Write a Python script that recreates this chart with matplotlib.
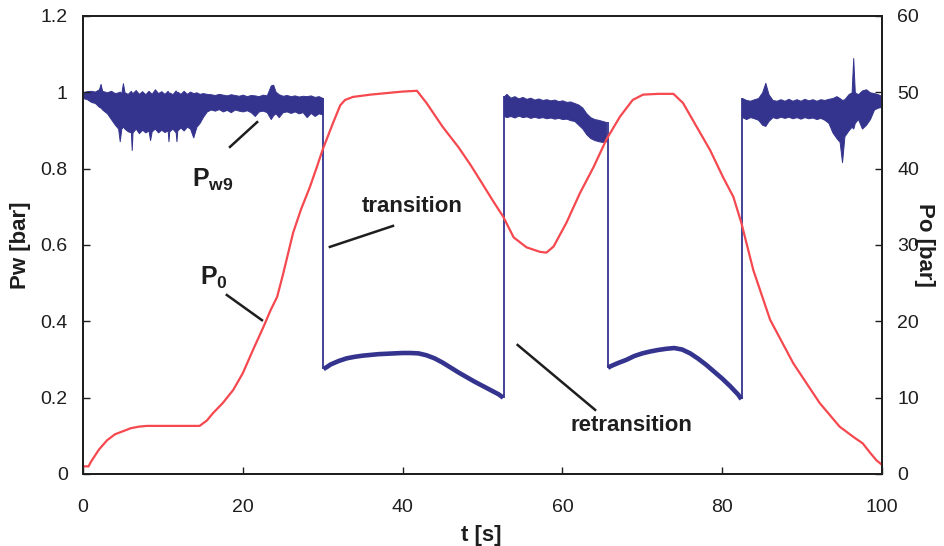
import numpy as np
import matplotlib
matplotlib.use('Agg')
import matplotlib.pyplot as plt

plt.rcParams['font.family'] = ['Liberation Sans', 'DejaVu Sans']
plt.rcParams['mathtext.fontset'] = 'custom'
plt.rcParams['mathtext.rm'] = 'Liberation Sans'
plt.rcParams['mathtext.bf'] = 'Liberation Sans:bold'

# Pw9 [bar], high (noisy) phases read as lower / upper edge of the band
t_a = [0.0, 0.5, 1.0, 1.5, 2.0, 2.2, 2.4, 3.0, 3.5, 4.0,
       4.4, 4.6, 4.8, 5.0, 5.2, 5.6, 6.0, 6.1, 6.2, 6.6,
       7.0, 7.4, 7.8, 8.2, 8.4, 8.6, 9.0, 9.4, 9.8, 10.2,
       10.6, 10.7, 10.8, 11.2, 11.6, 11.7, 11.8, 12.2, 12.6, 13.0,
       13.4, 13.8, 14.2, 14.6, 15.0, 15.5, 16.0, 16.5, 17.0, 17.5,
       18.0, 18.5, 19.0, 19.5, 20.0, 20.5, 21.0, 21.5, 22.0, 22.5,
       23.0, 23.5, 23.8, 24.1, 24.5, 25.0, 25.5, 26.0, 26.5, 27.0,
       27.5, 28.0, 28.5, 29.0, 29.5, 30.0]
lo_a = [0.985, 0.982, 0.975, 0.972, 0.962, 0.960, 0.955, 0.945, 0.930, 0.915,
        0.905, 0.872, 0.905, 0.910, 0.905, 0.898, 0.895, 0.849, 0.895, 0.905,
        0.893, 0.902, 0.895, 0.900, 0.875, 0.898, 0.905, 0.895, 0.902, 0.896,
        0.900, 0.872, 0.898, 0.905, 0.895, 0.872, 0.900, 0.908, 0.900, 0.910,
        0.905, 0.882, 0.910, 0.920, 0.935, 0.950, 0.955, 0.952, 0.956, 0.950,
        0.954, 0.948, 0.955, 0.952, 0.950, 0.953, 0.948, 0.938, 0.950, 0.952,
        0.948, 0.930, 0.940, 0.945, 0.935, 0.948, 0.950, 0.946, 0.950, 0.945,
        0.948, 0.935, 0.946, 0.938, 0.945, 0.942]
hi_a = [1.000, 1.003, 1.004, 1.002, 1.008, 1.022, 1.004, 1.000, 1.004, 0.998,
        1.000, 1.002, 0.998, 1.024, 1.000, 0.996, 1.004, 1.000, 0.998, 1.006,
        0.996, 1.003, 0.995, 1.004, 1.000, 0.996, 1.008, 0.998, 1.003, 0.996,
        1.004, 0.998, 1.000, 0.995, 1.005, 0.998, 1.002, 0.996, 1.004, 0.996,
        1.002, 0.998, 1.000, 0.996, 0.998, 0.996, 0.995, 0.993, 0.996, 0.994,
        0.992, 0.995, 0.993, 0.991, 0.994, 0.990, 0.993, 0.992, 0.990, 0.994,
        0.992, 1.018, 1.020, 1.002, 0.995, 0.991, 0.993, 0.990, 0.992, 0.989,
        0.991, 0.990, 0.992, 0.988, 0.990, 0.985]

t_c = [52.7, 53.0, 53.5, 54.0, 54.5, 55.0, 55.5, 56.0, 56.5, 57.0,
       57.5, 58.0, 58.5, 59.0, 59.5, 60.0, 60.5, 61.0, 61.5, 62.0,
       62.5, 63.0, 63.5, 64.0, 64.5, 65.0, 65.5]
lo_c = [0.938, 0.935, 0.938, 0.934, 0.939, 0.935, 0.937, 0.933, 0.936, 0.933,
        0.935, 0.932, 0.934, 0.931, 0.933, 0.930, 0.931, 0.927, 0.925, 0.915,
        0.905, 0.890, 0.880, 0.875, 0.872, 0.870, 0.872]
hi_c = [0.990, 0.996, 0.986, 0.990, 0.984, 0.988, 0.983, 0.986, 0.981, 0.984,
        0.980, 0.982, 0.979, 0.981, 0.977, 0.979, 0.975, 0.976, 0.972, 0.968,
        0.960, 0.945, 0.935, 0.930, 0.928, 0.925, 0.922]

t_e = [82.5, 83.0, 83.5, 84.0, 84.5, 85.0, 85.4, 85.8, 86.3, 86.8, 87.3, 87.8, 88.3, 88.8, 89.3, 89.8, 90.3,
       90.8, 91.3, 91.8, 92.3, 92.8, 93.3, 93.8, 94.3, 94.7, 95.0, 95.3, 95.8, 96.2, 96.4, 96.6, 97.0, 97.5,
       98.0, 98.5, 99.0, 99.5, 100.0]
lo_e = [0.935, 0.930, 0.935, 0.932, 0.928, 0.915, 0.912, 0.925, 0.935, 0.932, 0.936, 0.933, 0.936, 0.932, 0.935,
        0.931, 0.935, 0.932, 0.934, 0.930, 0.933, 0.928, 0.920, 0.895, 0.880, 0.870, 0.817, 0.885, 0.900, 0.910,
        0.905, 0.920, 0.930, 0.905, 0.915, 0.930, 0.955, 0.960, 0.962]
hi_e = [0.985, 0.980, 0.978, 0.982, 0.985, 1.000, 1.025, 0.995, 0.980, 0.978, 0.982, 0.978, 0.983, 0.978, 0.982,
        0.978, 0.983, 0.979, 0.982, 0.978, 0.982, 0.980, 0.983, 0.985, 0.990, 0.985, 0.980, 0.982, 0.995, 1.000,
        1.090, 1.000, 0.995, 1.005, 1.008, 1.000, 0.998, 0.995, 0.990]

# Pw9 [bar], low phases (after transition)
t_b = [30.1, 30.5, 31, 32, 33, 34, 35, 36, 37, 38, 39, 40, 41, 42, 43, 44, 45, 46, 47, 48, 49, 50, 51, 52, 52.6]
pw_b = [0.275, 0.280, 0.287, 0.296, 0.303, 0.307, 0.310, 0.312, 0.314, 0.315, 0.316, 0.317, 0.317, 0.316, 0.311,
        0.303, 0.292, 0.279, 0.266, 0.254, 0.242, 0.231, 0.220, 0.209, 0.200]
t_d = [65.7, 66, 67, 68, 69, 70, 71, 72, 73, 74, 75, 76, 77, 78, 79, 80, 81, 82, 82.4]
pw_d = [0.278, 0.282, 0.291, 0.299, 0.309, 0.316, 0.321, 0.325, 0.328, 0.330, 0.326, 0.316, 0.302, 0.286, 0.268,
        0.250, 0.230, 0.208, 0.196]

# P0 [bar]
t_o = [0, 0.7, 1, 2, 3, 4, 5, 6, 7, 8,
       10, 12, 14.6, 15.5, 16.3, 17.5, 18.8, 20, 21.3, 22.6,
       23.5, 24.3, 25, 26.3, 27.3, 28.4, 29.2, 30, 31.3, 32.2,
       32.8, 33.8, 36, 38, 40, 41.8, 43, 45, 47, 48.5,
       49.7, 51.3, 52.6, 53.9, 55.5, 57.2, 58.0, 58.9, 60.5, 62.2,
       63.9, 65.5, 67.2, 68.8, 70.1, 72, 73.9, 75.1, 76.8, 78.5,
       80.1, 81.4, 82.4, 83.9, 86, 88.9, 92.2, 94.7, 96.5, 97.6,
       98.5, 99.3, 100]
po = [1.0, 1.0, 1.6, 3.2, 4.4, 5.2, 5.6, 6.0, 6.2, 6.3,
      6.3, 6.3, 6.3, 7.0, 8.0, 9.3, 11.0, 13.2, 16.3, 19.3,
      21.5, 23.2, 26.0, 31.6, 34.7, 37.6, 40.0, 42.5, 46.0, 48.3,
      49.0, 49.4, 49.7, 49.9, 50.1, 50.2, 48.6, 45.5, 42.8, 40.5,
      38.5, 35.8, 33.7, 31.0, 29.7, 29.1, 29.0, 29.8, 32.9, 36.8,
      40.2, 43.8, 46.8, 49.0, 49.7, 49.8, 49.8, 48.6, 45.5, 42.4,
      38.9, 36.3, 32.9, 26.7, 20.2, 14.5, 9.3, 6.2, 4.8, 4.0,
      2.8, 1.8, 1.2]

x_ticks = [0, 20, 40, 60, 80, 100]
pw_ticks = [0, 0.2, 0.4, 0.6, 0.8, 1.0, 1.2]
pw_labels = ['0', '0.2', '0.4', '0.6', '0.8', '1', '1.2']
po_ticks = [0, 10, 20, 30, 40, 50, 60]

blue = '#34348f'
red = '#f5484f'
ink = '#1e1e1e'

fig = plt.figure(figsize=(9.44, 5.46), dpi=100)
ax = fig.add_axes([0.0879, 0.1319, 0.8464, 0.8388])
ax2 = ax.twinx()

# blue trace
for tt, lo, hi in [(t_a, lo_a, hi_a), (t_c, lo_c, hi_c), (t_e, lo_e, hi_e)]:
    ax.fill_between(tt, lo, hi, color=blue, lw=0.7)
for tt, pw in [(t_b, pw_b), (t_d, pw_d)]:
    ax.plot(tt, pw, color=blue, lw=3.3, solid_capstyle='butt')
ax.vlines(t_b[0], pw_b[0], hi_a[-1], color=blue, lw=1.3)
ax.vlines(t_c[0], pw_b[-1], hi_c[0], color=blue, lw=1.3)
ax.vlines(t_d[0], pw_d[0], hi_c[-1], color=blue, lw=1.3)
ax.vlines(t_e[0], pw_d[-1], hi_e[0], color=blue, lw=1.3)

# red trace
ax2.plot(t_o, po, color=red, lw=1.6)

ax.set_xlim(0, 100)
ax.set_ylim(0, 1.2)
ax2.set_ylim(0, 60)
ax.set_xticks(x_ticks)
ax.set_yticks(pw_ticks)
ax.set_yticklabels(pw_labels)
ax2.set_yticks(po_ticks)

ax.tick_params(direction='in', length=5, width=1, labelsize=14, pad=11, colors=ink)
ax.tick_params(axis='x', pad=18)
ax2.tick_params(direction='in', length=5, width=1, labelsize=14, pad=11, colors=ink)
for a in (ax, ax2):
    for s in a.spines.values():
        s.set_linewidth(1.3)
        s.set_color(ink)

fig.text(20.5 / 944, 1 - 245 / 546, 'Pw [bar]', rotation=90, ha='center', va='center',
         fontsize=16, fontweight='bold', color=ink)
fig.text(924 / 944, 1 - 245 / 546, 'Po [bar]', rotation=270, ha='center', va='center',
         fontsize=16, fontweight='bold', color=ink)
fig.text(481.5 / 944, 1 - 535 / 546, 't [s]', ha='center', va='center',
         fontsize=16, fontweight='bold', color=ink)

# labels with leader lines
ax.text(13.6, 0.752, r'$\mathbf{P_{w9}}$', fontsize=18, ha='left', va='baseline', color=ink)
ax.plot([18.4, 21.8], [0.857, 0.922], color=ink, lw=1.8)
ax.text(14.6, 0.495, r'$\mathbf{P_{0}}$', fontsize=18, ha='left', va='baseline', color=ink)
ax.plot([18.0, 22.4], [0.469, 0.403], color=ink, lw=1.8)
ax.text(34.9, 0.686, 'transition', fontsize=16, fontweight='bold', ha='left', va='baseline', color=ink)
ax.plot([30.9, 38.8], [0.595, 0.650], color=ink, lw=1.8)
ax.text(61.0, 0.113, 'retransition', fontsize=16, fontweight='bold', ha='left', va='baseline', color=ink)
ax.plot([54.4, 64.1], [0.338, 0.168], color=ink, lw=1.8)

fig.savefig('out.png', dpi=100)
